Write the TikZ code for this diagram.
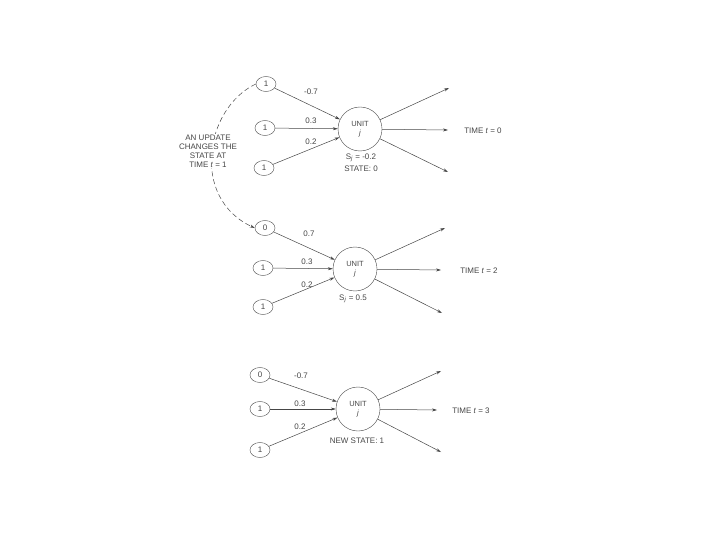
\documentclass[tikz,border=0pt]{standalone}
\usepackage{fontspec}
\setmainfont{Liberation Sans}
\usepackage{xcolor}
\usetikzlibrary{arrows.meta, positioning, calc, shapes}
\definecolor{scanink}{RGB}{70, 70, 70}

\begin{document}
\begin{tikzpicture}[x=1pt, y=-1pt, font=\fontsize{8}{9}\selectfont, text=scanink,
        inputnode/.style={draw=scanink, ellipse, minimum width=20pt, minimum height=15pt, inner sep=0pt},
        unitnode/.style={draw=scanink, circle, minimum size=44pt, inner sep=0pt, align=center, font=\fontsize{7.5}{9}\selectfont},
        link/.style={draw=scanink, line width=0.5pt, -{Stealth[length=5pt, width=3pt]}}]
        \useasboundingbox (0,0) rectangle (720,540);

        % Time t = 0
        \node[unitnode] (u1) at (360,129) {UNIT\\\textit{j}};
        \node[inputnode] (a1) at (266,84) {1};
        \node[inputnode] (b1) at (265,128) {1};
        \node[inputnode] (c1) at (264,168) {1};
        \draw[link] (a1) -- (u1);
        \draw[link] (b1) -- (u1);
        \draw[link] (c1) -- (u1);
        \node (w1a) at (311,92) {-0.7};
        \node (w1b) at (311,121) {0.3};
        \node (w1c) at (311,142) {0.2};
        \coordinate (o1a) at (449,88);
        \coordinate (o1b) at (448,130);
        \coordinate (o1c) at (448,172);
        \draw[link] (u1) -- (o1a);
        \draw[link] (u1) -- (o1b);
        \draw[link] (u1) -- (o1c);
        \node (t1) at (483,131) {TIME \textit{t} = 0};
        \node (s1) at (361,158) {S\textsubscript{\textit{j}} = -0.2};
        \node (st1) at (361,169) {STATE: 0};

        % Time t = 2
        \node[unitnode] (u2) at (355,269) {UNIT\\\textit{j}};
        \node[inputnode] (a2) at (265,228) {0};
        \node[inputnode] (b2) at (263,268) {1};
        \node[inputnode] (c2) at (263,307) {1};
        \draw[link] (a2) -- (u2);
        \draw[link] (b2) -- (u2);
        \draw[link] (c2) -- (u2);
        \node (w2a) at (309,234) {0.7};
        \node (w2b) at (307,262) {0.3};
        \node (w2c) at (307,285) {0.2};
        \coordinate (o2a) at (445,228);
        \coordinate (o2b) at (441,270);
        \coordinate (o2c) at (442,313);
        \draw[link] (u2) -- (o2a);
        \draw[link] (u2) -- (o2b);
        \draw[link] (u2) -- (o2c);
        \node (t2) at (479,271) {TIME \textit{t} = 2};
        \node (s2) at (353,299) {S\textsubscript{\textit{j}} = 0.5};

        % Time t = 3
        \node[unitnode] (u3) at (358,409) {UNIT\\\textit{j}};
        \node[inputnode] (a3) at (260,375) {0};
        \node[inputnode] (b3) at (260,409) {1};
        \node[inputnode] (c3) at (260,450) {1};
        \draw[link] (a3) -- (u3);
        \draw[link] (b3) -- (u3);
        \draw[link] (c3) -- (u3);
        \node (w3a) at (301,376) {-0.7};
        \node (w3b) at (300,404) {0.3};
        \node (w3c) at (300,427) {0.2};
        \coordinate (o3a) at (441,371);
        \coordinate (o3b) at (437,410);
        \coordinate (o3c) at (441,452);
        \draw[link] (u3) -- (o3a);
        \draw[link] (u3) -- (o3b);
        \draw[link] (u3) -- (o3c);
        \node (t3) at (471,411) {TIME \textit{t} = 3};
        \node (st3) at (357,441) {NEW STATE: 1};

        % Update arc
        \draw[link, dash pattern=on 5pt off 3pt] (a1.west) .. controls (205,108) and (190,198) .. (a2.west);
        \node[fill=white, align=center, inner sep=1pt] (upd) at (208,151) {AN UPDATE\\CHANGES THE\\STATE AT\\TIME \textit{t} = 1};
\end{tikzpicture}
\end{document}
